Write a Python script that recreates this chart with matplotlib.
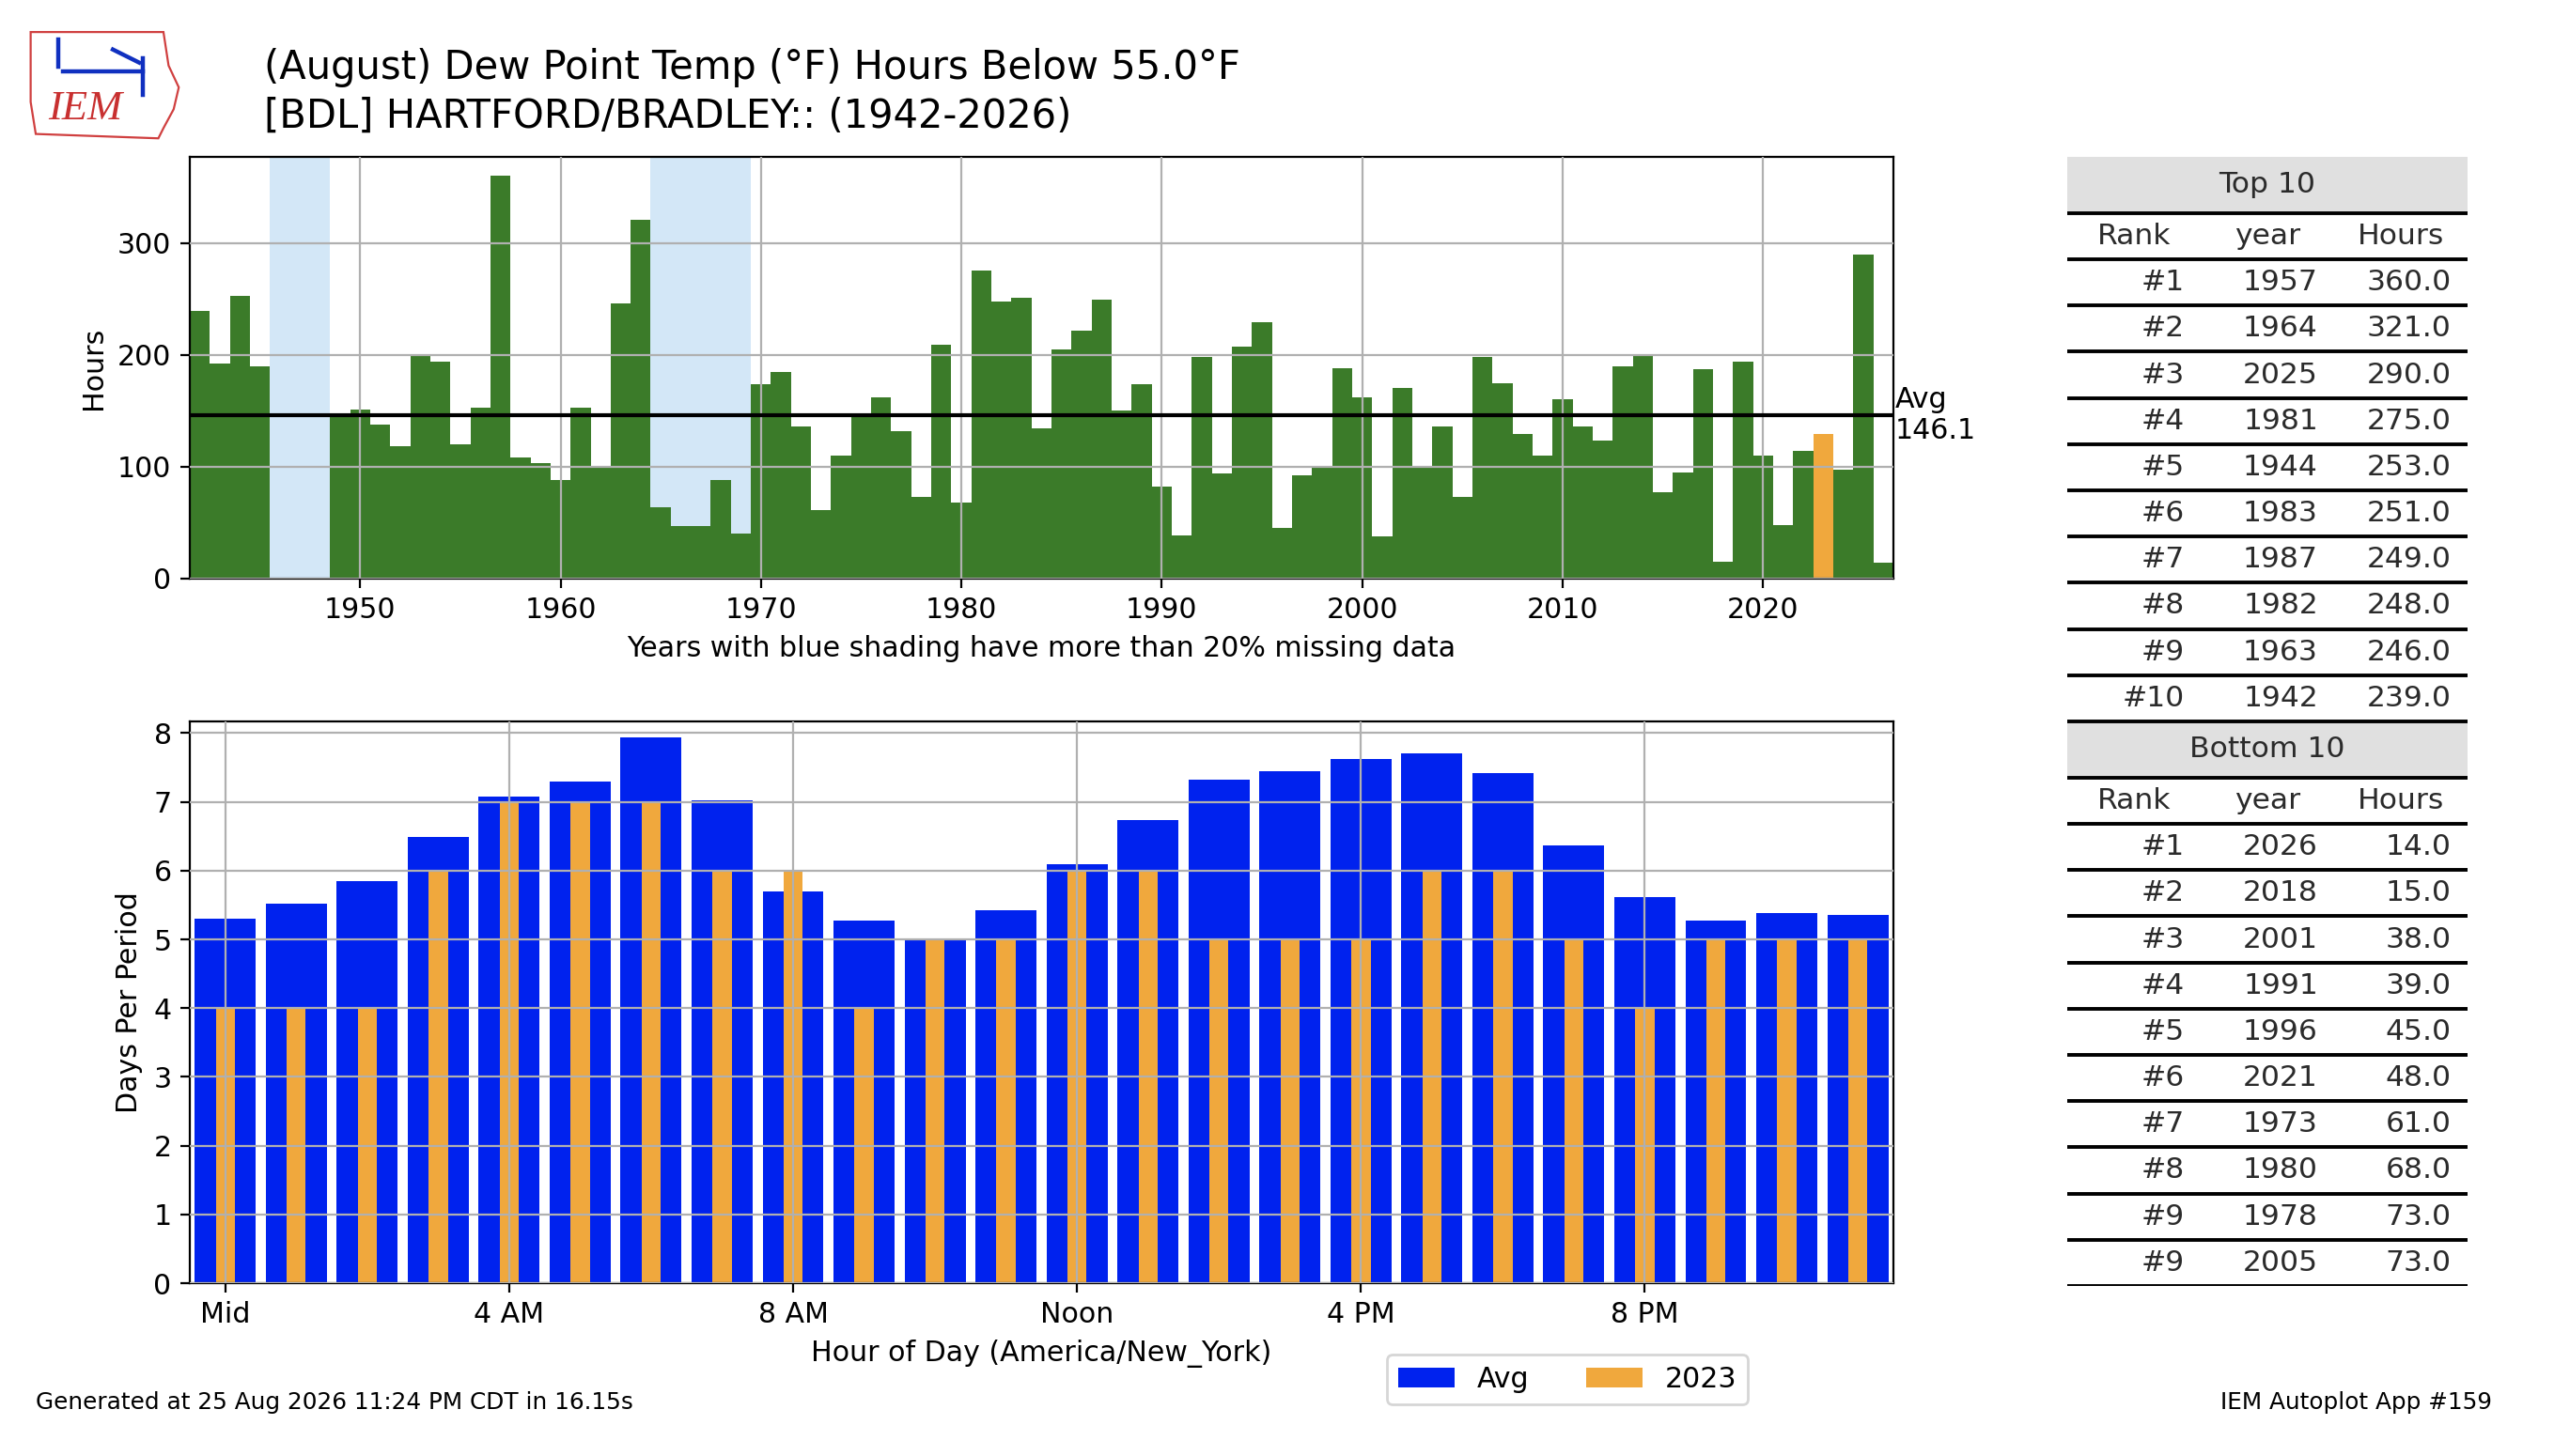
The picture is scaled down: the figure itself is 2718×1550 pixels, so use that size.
import matplotlib.pyplot as plt
import numpy as np
from matplotlib.patches import Rectangle, Polygon
from matplotlib.lines import Line2D

# top panel: August hours with dew point below 55F, by year
years = np.arange(1942, 2027)
hours = [239, 192, 253, 190, np.nan, np.nan, np.nan, 147, 151, 138,
         118, 201, 194, 120, 153, 360, 108, 103, 88, 153,
         100, 246, 321, 64, 47, 47, 88, 40, 174, 185,
         136, 61, 110, 145, 162, 132, 73, 209, 68, 275,
         248, 251, 134, 205, 222, 249, 150, 174, 82, 39,
         198, 94, 207, 229, 45, 92, 99, 188, 162, 38,
         170, 100, 136, 73, 198, 175, 129, 110, 160, 136,
         123, 190, 201, 77, 95, 187, 15, 194, 110, 48,
         114, 129, 97, 290, 14]
missing_spans = [(1946, 1948), (1965, 1969)]
avg_hours = 146.1
this_year = 2023

# bottom panel: days per hour of day
hour_labels = ["Mid", "4 AM", "8 AM", "Noon", "4 PM", "8 PM"]
avg_days = [5.30, 5.52, 5.85, 6.49, 7.08, 7.29, 7.94, 7.02, 5.70, 5.27, 5.00, 5.42,
            6.10, 6.74, 7.32, 7.44, 7.63, 7.70, 7.42, 6.37, 5.61, 5.27, 5.38, 5.35]
days_2023 = [4, 4, 4, 6, 7, 7, 7, 6, 6, 4, 5, 5,
             6, 6, 5, 5, 5, 6, 6, 5, 4, 5, 5, 5]

# rank tables
top_years = [1957, 1964, 2025, 1981, 1944, 1983, 1987, 1982, 1963, 1942]
top_hours = [360.0, 321.0, 290.0, 275.0, 253.0, 251.0, 249.0, 248.0, 246.0, 239.0]
top_ranks = ["#1", "#2", "#3", "#4", "#5", "#6", "#7", "#8", "#9", "#10"]
bot_years = [2026, 2018, 2001, 1991, 1996, 2021, 1973, 1980, 1978, 2005]
bot_hours = [14.0, 15.0, 38.0, 39.0, 45.0, 48.0, 61.0, 68.0, 73.0, 73.0]
bot_ranks = ["#1", "#2", "#3", "#4", "#5", "#6", "#7", "#8", "#9", "#9"]

GREEN = "#3b7b29"
BLUE = "#0022ee"
ORANGE = "#f0a83d"
SHADE = "#d3e7f7"
FS = 10.8

fig = plt.figure(figsize=(13.59, 7.75), dpi=200)

fig.text(0.1033, 0.9535, "(August) Dew Point Temp (\u00b0F) Hours Below 55.0\u00b0F",
         fontsize=15, va="center")
fig.text(0.1033, 0.9201, "[BDL] HARTFORD/BRADLEY:: (1942-2026)",
         fontsize=15, va="center")

# rough IEM logo
fig.patches.append(Polygon([[0.012, 0.978], [0.064, 0.978], [0.066, 0.955], [0.070, 0.94],
                            [0.068, 0.925], [0.064, 0.912], [0.062, 0.905], [0.014, 0.908],
                            [0.012, 0.93]], closed=True, fill=False, edgecolor="#d04040",
                           lw=0.8, transform=fig.transFigure))
for xs, ys in [([0.0228, 0.0228], [0.973, 0.954]),
               ([0.0247, 0.0559], [0.951, 0.951]),
               ([0.0442, 0.0545], [0.966, 0.957]),
               ([0.0559, 0.0559], [0.960, 0.935])]:
    fig.lines.append(Line2D(xs, ys, color="#1030c0", lw=1.6, transform=fig.transFigure))
fig.text(0.019, 0.925, "IEM", color="#c83030", fontsize=16, style="italic",
         family="Liberation Serif", va="center")

# ---- top panel
ax1 = fig.add_axes([0.0743, 0.6026, 0.667, 0.2897])
for lo, hi in missing_spans:
    ax1.axvspan(lo - 0.5, hi + 0.5, color=SHADE, zorder=0, lw=0)
colors = [ORANGE if y == this_year else GREEN for y in years]
ax1.bar(years, hours, width=1.0, color=colors, zorder=1)
ax1.axhline(avg_hours, color="k", lw=1.5, zorder=3)
ax1.text(2026.6, avg_hours, "Avg\n%.1f" % avg_hours, fontsize=FS, va="center", ha="left")
ax1.set_xlim(1941.5, 2026.5)
ax1.set_ylim(0, 377)
ax1.set_yticks([0, 100, 200, 300])
ax1.set_xticks(range(1950, 2021, 10))
ax1.grid(True, color="#b0b0b0", lw=0.8)
ax1.set_axisbelow(False)
ax1.set_ylabel("Hours", fontsize=FS)
ax1.set_xlabel("Years with blue shading have more than 20% missing data", fontsize=FS)
ax1.tick_params(labelsize=FS)

# ---- bottom panel
ax2 = fig.add_axes([0.0743, 0.1187, 0.667, 0.3858])
hrs = np.arange(24)
b1 = ax2.bar(hrs, avg_days, width=0.86, color=BLUE, label="Avg")
b2 = ax2.bar(hrs, days_2023, width=0.27, color=ORANGE, label=str(this_year))
ax2.set_xlim(-0.5, 23.5)
ax2.set_ylim(0, 8.17)
ax2.set_xticks(range(0, 24, 4))
ax2.set_xticklabels(hour_labels)
ax2.set_yticks(range(0, 9))
ax2.grid(True, color="#b0b0b0", lw=0.8)
ax2.set_axisbelow(False)
ax2.set_ylabel("Days Per Period", fontsize=FS)
ax2.set_xlabel("Hour of Day (America/New_York)", fontsize=FS)
ax2.tick_params(labelsize=FS)
fig.legend(handles=[b1, b2], loc="center", bbox_to_anchor=(0.6137, 0.0529),
           ncol=2, fontsize=FS)

# ---- rank tables
axt = fig.add_axes([0.8094, 0.1168, 0.1567, 0.7755])
axt.axis("off")
header_h = 60
row_h = 49.2
total = 2 * (header_h + 11 * row_h)
axt.set_xlim(0, 3)
axt.set_ylim(total, 0)
TC = "#2b2b2b"
TFS = 11.3


def draw_block(y0, title, ranks, yrs, vals):
    axt.add_patch(Rectangle((0, y0), 3, header_h, color="#e0e0e0", lw=0))
    axt.text(1.5, y0 + header_h / 2, title, ha="center", va="center", fontsize=TFS, color=TC)
    y = y0 + header_h
    axt.plot([0, 3], [y, y], color="k", lw=1.4, solid_capstyle="butt")
    for i, h in enumerate(["Rank", "year", "Hours"]):
        axt.text(i + 0.5, y + row_h / 2, h, ha="center", va="center", fontsize=TFS, color=TC)
    y += row_h
    axt.plot([0, 3], [y, y], color="k", lw=1.4, solid_capstyle="butt")
    for r, yr, v in zip(ranks, yrs, vals):
        cells = [r, str(yr), "%.1f" % v]
        for i, c in enumerate(cells):
            axt.text(i + 0.88, y + row_h / 2, c, ha="right", va="center", fontsize=TFS, color=TC)
        y += row_h
        axt.plot([0, 3], [y, y], color="k", lw=1.4, solid_capstyle="butt")
    return y


yend = draw_block(0, "Top 10", top_ranks, top_years, top_hours)
draw_block(yend, "Bottom 10", bot_ranks, bot_years, bot_hours)

fig.text(0.014, 0.037, "Generated at 25 Aug 2026 11:24 PM CDT in 16.15s", fontsize=8.9, va="center")
fig.text(0.9757, 0.037, "IEM Autoplot App #159", fontsize=8.9, va="center", ha="right")

fig.savefig("out.png", dpi=200)
